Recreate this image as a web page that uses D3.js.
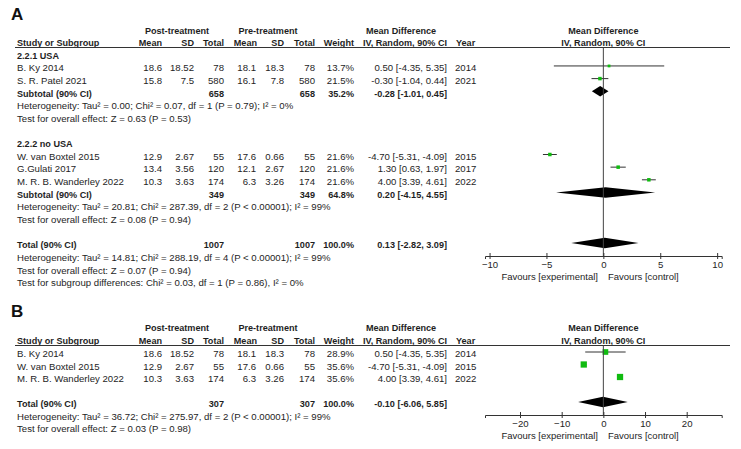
<!DOCTYPE html>
<html><head><meta charset="utf-8">
<script src="https://cdn.jsdelivr.net/npm/d3@7"></script>
<style>body{margin:0;background:#fff}</style>
</head><body><svg id="c" width="741" height="449"></svg>
<script>
// ---- data ----
const groupHeaders = ["Post-treatment", "Pre-treatment", "Mean Difference"];
const colHeaders = ["Study or Subgroup","Mean","SD","Total","Mean","SD","Total","Weight","IV, Random, 90% CI","Year"];
// name, postMean, postSD, postN, preMean, preSD, preN, weight, MD, lo, hi, year
const usaRows = [
  ["B. Ky 2014", 18.6, 18.52, 78, 18.1, 18.3, 78, 13.7, 0.50, -4.35, 5.35, 2014],
  ["S. R. Patel 2021", 15.8, 7.5, 580, 16.1, 7.8, 580, 21.5, -0.30, -1.04, 0.44, 2021]
];
const noUsaRows = [
  ["W. van Boxtel 2015", 12.9, 2.67, 55, 17.6, 0.66, 55, 21.6, -4.70, -5.31, -4.09, 2015],
  ["G.Gulati 2017", 13.4, 3.56, 120, 12.1, 2.67, 120, 21.6, 1.30, 0.63, 1.97, 2017],
  ["M. R. B. Wanderley 2022", 10.3, 3.63, 174, 6.3, 3.26, 174, 21.6, 4.00, 3.39, 4.61, 2022]
];
const panelBRows = [
  ["B. Ky 2014", 18.6, 18.52, 78, 18.1, 18.3, 78, 28.9, 0.50, -4.35, 5.35, 2014],
  ["W. van Boxtel 2015", 12.9, 2.67, 55, 17.6, 0.66, 55, 35.6, -4.70, -5.31, -4.09, 2015],
  ["M. R. B. Wanderley 2022", 10.3, 3.63, 174, 6.3, 3.26, 174, 35.6, 4.00, 3.39, 4.61, 2022]
];
// postN, preN, weight, MD, lo, hi
const usaSubtotal = [658, 658, 35.2, -0.28, -1.01, 0.45];
const noUsaSubtotal = [349, 349, 64.8, 0.20, -4.15, 4.55];
const totalA = [1007, 1007, 100.0, 0.13, -2.82, 3.09];
const totalB = [307, 307, 100.0, -0.10, -6.06, 5.85];
const usaStats = ["Heterogeneity: Tau\u00B2 = 0.00; Chi\u00B2 = 0.07, df = 1 (P = 0.79); I\u00B2 = 0%", "Test for overall effect: Z = 0.63 (P = 0.53)"];
const noUsaStats = ["Heterogeneity: Tau\u00B2 = 20.81; Chi\u00B2 = 287.39, df = 2 (P < 0.00001); I\u00B2 = 99%", "Test for overall effect: Z = 0.08 (P = 0.94)"];
const totalAStats = ["Heterogeneity: Tau\u00B2 = 14.81; Chi\u00B2 = 288.19, df = 4 (P < 0.00001); I\u00B2 = 99%", "Test for overall effect: Z = 0.07 (P = 0.94)", "Test for subgroup differences: Chi\u00B2 = 0.03, df = 1 (P = 0.86), I\u00B2 = 0%"];
const totalBStats = ["Heterogeneity: Tau\u00B2 = 36.72; Chi\u00B2 = 275.97, df = 2 (P < 0.00001); I\u00B2 = 99%", "Test for overall effect: Z = 0.03 (P = 0.98)"];
const ticksA = [-10, -5, 0, 5, 10];
const ticksB = [-20, -10, 0, 10, 20];
const favourLabels = ["Favours [experimental]", "Favours [control]"];

// ---- drawing ----
const svg = d3.select("#c");
svg.append("rect").attr("width", 741).attr("height", 449).attr("fill", "#fff");
const FONT = "'Liberation Sans', Arial, sans-serif";
const INK = "#1e1e1e";
const GREEN = "#10bb10";
const colRight = [null, 162, 194, 224, 256, 284, 315, 354, 447];
const yearX = 455;

function txt(g, x, y, s, anchor, bold, size) {
  return g.append("text").attr("x", x).attr("y", y).text(s)
    .attr("text-anchor", anchor || "start")
    .attr("font-family", FONT)
    .attr("font-size", size || (bold ? 9.1 : 9.6))
    .attr("font-weight", bold ? "bold" : "normal")
    .attr("fill", INK);
}
const ciText = (m, l, h) => m.toFixed(2) + " [" + l.toFixed(2) + ", " + h.toFixed(2) + "]";

function drawPanel(cfg) {
  const g = svg.append("g");
  const x = d3.scaleLinear().domain(cfg.domain).range([485, 721.7]);
  const size = d3.scaleSqrt().domain([0, 100]).range([0, cfg.sqK * 10]);
  const B = 3.3;
  txt(g, 11, cfg.labelY, cfg.label, "start", true, 17).attr("fill", "#111");
  // group headers
  txt(g, 177, cfg.headY + B, groupHeaders[0], "middle", true);
  txt(g, 268, cfg.headY + B, groupHeaders[1], "middle", true);
  txt(g, 401, cfg.headY + B, groupHeaders[2], "middle", true);
  txt(g, x(0), cfg.headY + B, groupHeaders[2], "middle", true);
  const hy = cfg.headY + cfg.headGap + B;
  txt(g, 17, hy, colHeaders[0], "start", true);
  for (let i = 1; i <= 8; i++) txt(g, colRight[i] + (i === 4 ? 1 : 0), hy, colHeaders[i], "end", true);
  txt(g, yearX + 1, hy, colHeaders[9], "start", true);
  txt(g, x(0), hy, colHeaders[8], "middle", true);
  g.append("line").attr("x1", 15).attr("x2", 730).attr("y1", cfg.lineY).attr("y2", cfg.lineY)
    .attr("stroke", "#333").attr("stroke-width", 1);

  // rows
  cfg.items.forEach((it, i) => {
    const cy = cfg.firstY + i * cfg.step;
    const by = cy + B;
    const my = cy - 2;
    if (it.t === "group") {
      txt(g, 17, by, it.label, "start", true);
    } else if (it.t === "note") {
      txt(g, 17, by, it.s, "start", false);
    } else if (it.t === "study") {
      const r = it.r;
      txt(g, 17, by, r[0], "start", false);
      for (let k = 1; k <= 6; k++) txt(g, colRight[k], by, String(r[k]), "end", false);
      txt(g, colRight[7], by, r[7].toFixed(1) + "%", "end", false);
      txt(g, colRight[8], by, ciText(r[8], r[9], r[10]), "end", false);
      txt(g, yearX, by, String(r[11]), "start", false);
      g.append("line").attr("x1", x(r[9])).attr("x2", x(r[10])).attr("y1", my).attr("y2", my)
        .attr("stroke", "#333").attr("stroke-width", 1);
      const s = size(r[7]);
      g.append("rect").attr("x", x(r[8]) - s / 2).attr("y", my - s / 2)
        .attr("width", s).attr("height", s).attr("fill", GREEN);
    } else if (it.t === "sum") {
      const v = it.v;
      txt(g, 17, by, it.label, "start", true);
      txt(g, colRight[3], by, String(v[0]), "end", true);
      txt(g, colRight[6], by, String(v[1]), "end", true);
      txt(g, colRight[7], by, v[2].toFixed(1) + "%", "end", true);
      txt(g, colRight[8], by, ciText(v[3], v[4], v[5]), "end", true);
      const h = 5.3;
      g.append("polygon").attr("points", [
        [x(v[4]), my], [x(v[3]), my - h], [x(v[5]), my], [x(v[3]), my + h]
      ].map(p => p.join(",")).join(" ")).attr("fill", "#000");
    }
  });

  // zero line
  g.append("line").attr("x1", x(0)).attr("x2", x(0)).attr("y1", cfg.lineY).attr("y2", cfg.axisY)
    .attr("stroke", "#444").attr("stroke-width", 1);
  // axis
  const ax = g.append("g").attr("transform", "translate(0," + cfg.axisY + ")")
    .call(d3.axisBottom(x).tickValues(cfg.ticks).tickSizeOuter(0).tickSize(3).tickPadding(2.5));
  ax.select(".domain").attr("stroke", "#333");
  ax.selectAll(".tick line").attr("y1", -3).attr("y2", 3).attr("stroke", "#333");
  ax.selectAll(".tick text").attr("font-family", FONT).attr("font-size", 9.6).attr("fill", INK);
  txt(g, 598, cfg.axisY + 24, favourLabels[0], "end", false, 9.5);
  txt(g, 608, cfg.axisY + 24, favourLabels[1], "start", false, 9.5);
}

const itemsA = [
  {t: "group", label: "2.2.1 USA"},
  ...usaRows.map(r => ({t: "study", r})),
  {t: "sum", label: "Subtotal (90% CI)", v: usaSubtotal},
  ...usaStats.map(s => ({t: "note", s})),
  {t: "blank"},
  {t: "group", label: "2.2.2 no USA"},
  ...noUsaRows.map(r => ({t: "study", r})),
  {t: "sum", label: "Subtotal (90% CI)", v: noUsaSubtotal},
  ...noUsaStats.map(s => ({t: "note", s})),
  {t: "blank"},
  {t: "sum", label: "Total (90% CI)", v: totalA},
  ...totalAStats.map(s => ({t: "note", s}))
];
const itemsB = [
  ...panelBRows.map(r => ({t: "study", r})),
  {t: "blank"},
  {t: "sum", label: "Total (90% CI)", v: totalB},
  ...totalBStats.map(s => ({t: "note", s}))
];

drawPanel({label: "A", labelY: 20, headY: 31, headGap: 12, lineY: 47.5, firstY: 55.3, step: 12.65,
  items: itemsA, domain: [-10.4, 10.4], ticks: ticksA, axisY: 256, sqK: 0.75});
drawPanel({label: "B", labelY: 317, headY: 328, headGap: 13, lineY: 345.5, firstY: 354, step: 12.5,
  items: itemsB, domain: [-28.4, 28.4], ticks: ticksB, axisY: 415, sqK: 1.05});
</script></body></html>
